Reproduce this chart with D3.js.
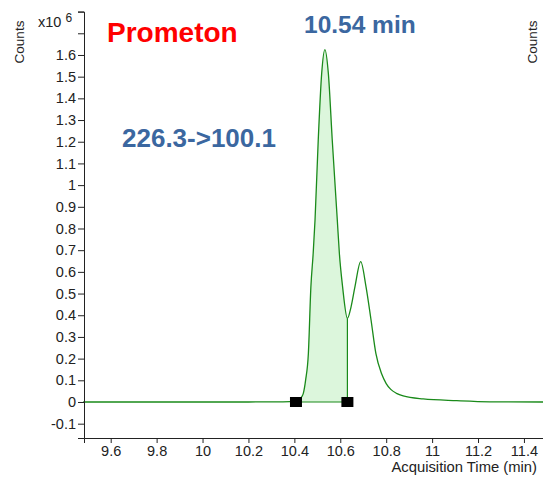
<!DOCTYPE html>
<html>
<head>
<meta charset="utf-8">
<script src="https://cdn.jsdelivr.net/npm/d3@7"></script>
<style>
  body { margin: 0; background: #fff; }
  text { font-family: 'Liberation Sans', Arial, sans-serif; }
</style>
</head>
<body>
<div id="chart"></div>
<script>
// Chromatogram trace: time in min, counts in x10^6
const times = [9.48, 9.8, 10.0, 10.2, 10.35, 10.407, 10.42, 10.432, 10.439, 10.449, 10.461, 10.472,
  10.482, 10.49, 10.504, 10.519, 10.533, 10.548, 10.565, 10.587, 10.596, 10.61, 10.631, 10.647,
  10.664, 10.689, 10.712, 10.734, 10.755, 10.78, 10.8, 10.82, 10.845, 10.874, 10.961, 11.107, 11.252, 11.49]
const counts = [0, 0, 0, 0, 0.001, 0.004, 0.012, 0.024, 0.04, 0.101, 0.224, 0.532,
  0.686, 0.839, 1.208, 1.515, 1.625, 1.515, 1.208, 0.839, 0.686, 0.532, 0.386, 0.439,
  0.532, 0.647, 0.532, 0.378, 0.224, 0.13, 0.085, 0.058, 0.04, 0.028, 0.014, 0.006, 0.001, 0]

// integration window of the main peak
const peakStart = 10.407
const peakEnd = 10.631

const xTicks = [9.6, 9.8, 10, 10.2, 10.4, 10.6, 10.8, 11, 11.2, 11.4]
const yTicks = d3.range(-1, 19).map(function (i) { return i / 10 })

const compound = 'Prometon'
const retention = '10.54 min'
const transition = '226.3->100.1'

const W = 543
const H = 480

const data = times.map(function (t, i) { return { t: t, v: counts[i] } })

const svg = d3.select('#chart')
  .append('svg')
  .attr('width', W)
  .attr('height', H)

const x = d3.scaleLinear()
  .domain([9.4837, 11.483])
  .range([84, 543])

const y = d3.scaleLinear()
  .domain([-0.166, 1.8])
  .range([438, 11.6])

// integrated area
const inPeak = data.filter(function (d) { return d.t >= peakStart && d.t <= peakEnd })
svg.append('path')
  .datum(inPeak)
  .attr('fill', '#dcf6dc')
  .attr('stroke', 'none')
  .attr('d', d3.area()
    .curve(d3.curveMonotoneX)
    .x(function (d) { return x(d.t) })
    .y0(y(0))
    .y1(function (d) { return y(d.v) })
  )

// baseline and drop line of the integration
svg.append('line')
  .attr('x1', x(peakStart)).attr('x2', x(peakEnd))
  .attr('y1', y(0)).attr('y2', y(0))
  .attr('stroke', '#1a8a1a')
  .attr('stroke-width', 1.2)
svg.append('line')
  .attr('x1', x(peakEnd)).attr('x2', x(peakEnd))
  .attr('y1', y(0)).attr('y2', y(counts[times.indexOf(peakEnd)]))
  .attr('stroke', '#1a8a1a')
  .attr('stroke-width', 1.2)

// the trace
svg.append('path')
  .datum(data)
  .attr('fill', 'none')
  .attr('stroke', '#1a8a1a')
  .attr('stroke-width', 1.3)
  .attr('d', d3.line()
    .curve(d3.curveMonotoneX)
    .x(function (d) { return x(d.t) })
    .y(function (d) { return y(d.v) })
  )

// integration markers
svg.selectAll('rect.marker')
  .data([peakStart, peakEnd])
  .enter()
  .append('rect')
  .attr('class', 'marker')
  .attr('x', function (d) { return x(d) - 6 })
  .attr('y', y(0) - 5)
  .attr('width', 12)
  .attr('height', 10)
  .attr('fill', '#000')

// axes
svg.append('g')
  .attr('transform', 'translate(0,438)')
  .call(d3.axisBottom(x)
    .tickValues(xTicks)
    .tickSizeOuter(0)
    .tickSize(5)
    .tickPadding(3)
    .tickFormat(function (d) { return String(+d.toFixed(1)) }))

svg.append('g')
  .attr('transform', 'translate(84,0)')
  .call(d3.axisLeft(y)
    .tickValues(yTicks)
    .tickSizeOuter(0)
    .tickSize(6)
    .tickPadding(2)
    .tickFormat(function (d) { return d > 1.65 ? '' : String(+d.toFixed(1)) }))

svg.selectAll('.domain').attr('stroke', '#222')
svg.selectAll('.tick line').attr('stroke', '#222')
svg.selectAll('.tick text')
  .attr('fill', '#222')
  .style('font-size', '14.5px')
  .style('font-family', "'Liberation Sans', Arial, sans-serif")

// axis titles
svg.append('text')
  .attr('transform', 'translate(24,42) rotate(-90)')
  .attr('text-anchor', 'middle')
  .attr('fill', '#222')
  .style('font-size', '13.5px')
  .text('Counts')

svg.append('text')
  .attr('transform', 'translate(537,42) rotate(-90)')
  .attr('text-anchor', 'middle')
  .attr('fill', '#222')
  .style('font-size', '13.5px')
  .text('Counts')

const exp = svg.append('text')
  .attr('x', 38)
  .attr('y', 26.5)
  .attr('fill', '#222')
  .style('font-size', '14.5px')
exp.append('tspan').text('x10 ')
exp.append('tspan')
  .attr('dy', -5)
  .style('font-size', '12px')
  .text('6')

svg.append('text')
  .attr('x', 537)
  .attr('y', 472)
  .attr('text-anchor', 'end')
  .attr('fill', '#222')
  .style('font-size', '14.8px')
  .text('Acquisition Time (min)')

// annotations
svg.append('text')
  .attr('x', 107)
  .attr('y', 41.7)
  .attr('fill', '#ff0000')
  .style('font-size', '28px')
  .style('font-weight', 'bold')
  .text(compound)

svg.append('text')
  .attr('x', 304)
  .attr('y', 33.3)
  .attr('fill', '#3b67a0')
  .style('font-size', '24.5px')
  .style('font-weight', 'bold')
  .text(retention)

svg.append('text')
  .attr('x', 122)
  .attr('y', 146.7)
  .attr('fill', '#3b67a0')
  .style('font-size', '26px')
  .style('font-weight', 'bold')
  .text(transition)
</script>
</body>
</html>
